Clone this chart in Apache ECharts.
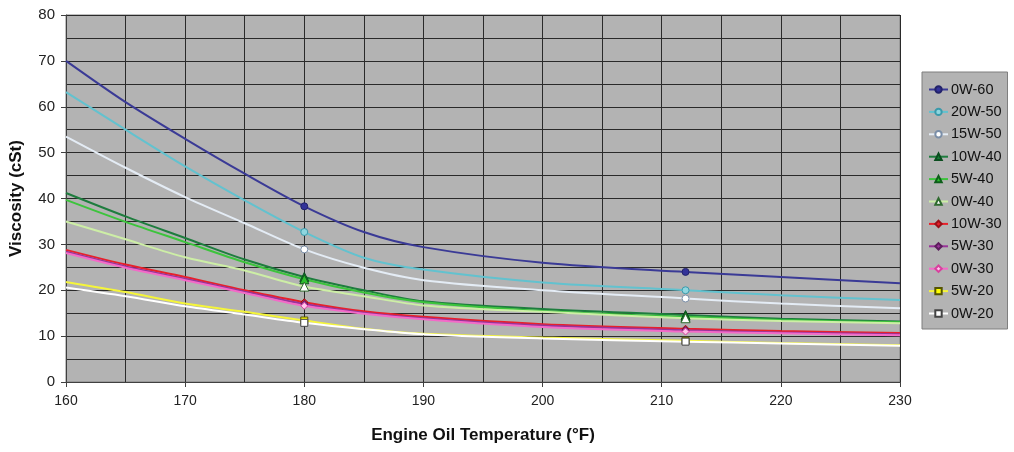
<!DOCTYPE html>
<html>
<head>
<meta charset="utf-8">
<script src="https://cdn.jsdelivr.net/npm/echarts@6/dist/echarts.min.js"></script>
<style>
  html, body { margin: 0; padding: 0; background: #fff; }
  #chart { width: 1014px; height: 452px; }
</style>
</head>
<body>
<div id="chart"></div>
<script>
// temperatures (°F) where the curves are read
const temps = [160, 165, 170, 175, 180, 185, 190, 200, 212, 220, 230];
// measured points only (markers)
const markTemps = [180, 212];

const v0W60  = [70.0, 61.0, 53.0, 45.4, 38.3, 32.7, 29.4, 26.0, 24.0, 22.9, 21.5];
const v20W50 = [63.2, 55.0, 47.0, 39.6, 32.7, 27.1, 24.5, 21.7, 20.0, 18.9, 17.9];
const v15W50 = [53.5, 46.7, 40.3, 34.6, 28.9, 24.9, 22.2, 20.0, 18.2, 17.1, 16.1];
const v10W40 = [41.2, 36.1, 31.4, 26.7, 22.9, 20.0, 17.6, 15.9, 14.6, 13.8, 13.2];
const v5W40  = [39.7, 34.9, 30.5, 26.1, 22.4, 19.5, 17.4, 15.5, 14.2, 13.5, 13.0];
const v0W40  = [35.0, 31.1, 27.2, 24.3, 20.8, 18.7, 16.7, 15.3, 13.9, 13.3, 12.8];
const v10W30 = [28.8, 25.6, 22.9, 20.0, 17.4, 15.4, 14.2, 12.6, 11.6, 11.1, 10.7];
const v5W30  = [28.4, 25.2, 22.5, 19.7, 17.0, 15.1, 13.9, 12.3, 11.3, 10.8, 10.4];
const v0W30  = [28.1, 24.9, 22.2, 19.4, 16.6, 14.9, 13.7, 12.0, 11.0, 10.6, 10.2];
const v5W20  = [21.8, 19.6, 17.1, 15.3, 13.4, 11.6, 10.5, 9.7, 9.0, 8.5, 8.0];
const v0W20  = [20.6, 18.7, 16.5, 14.7, 12.9, 11.5, 10.4, 9.5, 8.8, 8.4, 7.9];

const xTicks = [160, 170, 180, 190, 200, 210, 220, 230];
const yTicks = [0, 10, 20, 30, 40, 50, 60, 70, 80];

const FONT = '"Liberation Sans", Arial, sans-serif';

// name, values, line colour, marker, marker fill, marker border
const defs = [
  ['0W-60', v0W60, '#3a3a96', 'circle', '#333399', '#22226a'],
  ['20W-50', v20W50, '#62c2cf', 'circle', '#8fd6df', '#3b9aab'],
  ['15W-50', v15W50, '#e4ecf5', 'circle', '#ffffff', '#7a8ea8'],
  ['10W-40', v10W40, '#1e7d3e', 'triangle', '#137a33', '#0a4d1e'],
  ['5W-40', v5W40, '#3cc43c', 'triangle', '#2fbf2f', '#0d5e1a'],
  ['0W-40', v0W40, '#cdeea6', 'triangle', '#ffffff', '#2f6b2f'],
  ['10W-30', v10W30, '#e8202a', 'diamond', '#e8202a', '#9a1018'],
  ['5W-30', v5W30, '#993399', 'diamond', '#993399', '#5e1e5e'],
  ['0W-30', v0W30, '#f36ac8', 'diamond', '#ffc6ea', '#d9409e'],
  ['5W-20', v5W20, '#f5f53a', 'rect', '#ffff00', '#555500'],
  ['0W-20', v0W20, '#ffffff', 'rect', '#ffffff', '#444444']
];

const series = defs.map(d => ({
  name: d[0],
  type: 'line',
  smooth: 0.3,
  symbol: d[3],
  symbolSize: d[3] === 'triangle' ? 9 : 7,
  showSymbol: true,
  showAllSymbol: true,
  lineStyle: { color: d[2], width: 2 },
  itemStyle: { color: d[4], borderColor: d[5], borderWidth: 1 },
  emphasis: { disabled: true },
  data: temps.map((t, i) => markTemps.includes(t)
    ? { value: [t, d[1][i]] }
    : { value: [t, d[1][i]], symbol: 'none' })
}));

const chart = echarts.init(document.getElementById('chart'));
chart.setOption({
  animation: false,
  textStyle: { fontFamily: FONT },
  grid: {
    left: 66, right: 114, top: 15, bottom: 70,
    show: true,
    backgroundColor: '#b3b3b3',
    borderColor: '#808080',
    borderWidth: 1
  },
  legend: {
    orient: 'vertical',
    left: 922,
    top: 72,
    padding: [10, 6, 8, 6],
    itemGap: 7.4,
    itemWidth: 19,
    itemHeight: 8,
    backgroundColor: '#b3b3b3',
    borderColor: '#7f7f7f',
    borderWidth: 1,
    textStyle: { fontFamily: FONT, fontSize: 14.5, lineHeight: 14, color: '#111', padding: [0, 0, 0, -2] },
    data: defs.map(d => d[0])
  },
  xAxis: {
    type: 'value',
    min: xTicks[0],
    max: xTicks[xTicks.length - 1],
    interval: 10,
    name: 'Engine Oil Temperature (°F)',
    nameLocation: 'middle',
    nameGap: 45,
    nameTextStyle: { fontFamily: FONT, fontSize: 17, fontWeight: 'bold', color: '#111' },
    axisLine: { show: true, lineStyle: { color: '#404040', width: 1 } },
    axisTick: { show: true, inside: false, length: 5, lineStyle: { color: '#404040' } },
    axisLabel: { fontFamily: FONT, fontSize: 14, color: '#222', margin: 12 },
    splitLine: { show: true, lineStyle: { color: '#2a2a2a', width: 1 } },
    minorTick: { show: false, splitNumber: 2 },
    minorSplitLine: { show: true, lineStyle: { color: '#2a2a2a', width: 1 } }
  },
  yAxis: {
    type: 'value',
    min: yTicks[0],
    max: yTicks[yTicks.length - 1],
    interval: 10,
    name: 'Viscosity (cSt)',
    nameLocation: 'middle',
    nameGap: 41,
    nameTextStyle: { fontFamily: FONT, fontSize: 17, fontWeight: 'bold', color: '#111' },
    axisLine: { show: true, lineStyle: { color: '#404040', width: 1 } },
    axisTick: { show: true, inside: false, length: 5, lineStyle: { color: '#404040' } },
    axisLabel: { fontFamily: FONT, fontSize: 15, color: '#222', margin: 11 },
    splitLine: { show: true, lineStyle: { color: '#2a2a2a', width: 1 } },
    minorTick: { show: false, splitNumber: 2 },
    minorSplitLine: { show: true, lineStyle: { color: '#2a2a2a', width: 1 } }
  },
  series: series
});
</script>
</body>
</html>
